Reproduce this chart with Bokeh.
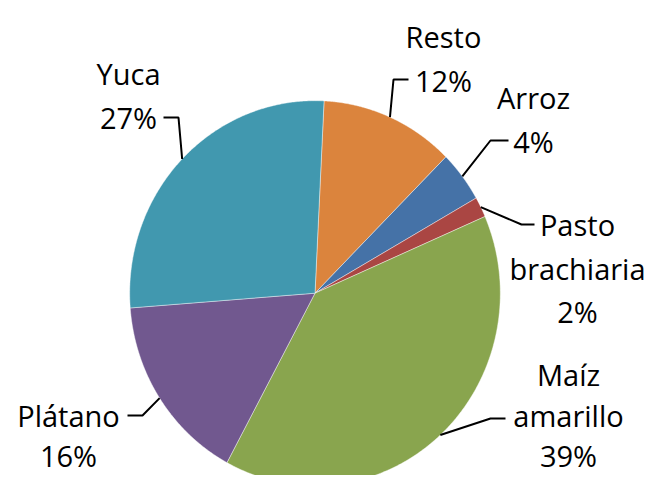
import numpy as np
from bokeh.plotting import figure
from bokeh.models import Range1d
from bokeh.core.properties import value
from bokeh.embed import file_html
from bokeh.resources import INLINE

# ---- data ----
categories = ["Resto", "Arroz", "Pasto brachiaria", "Maíz amarillo", "Plátano", "Yuca"]
shares = [11.7, 4.3, 1.7, 39.4, 15.9, 27.0]
colors = ["#DB843D", "#4572A7", "#AA4643", "#89A54E", "#71588F", "#4198AF"]
label_lines = [["Resto"], ["Arroz"], ["Pasto", "brachiaria"], ["Maíz", "amarillo"], ["Plátano"], ["Yuca"]]

# ---- layout (picture pixel coordinates) ----
W, H = 646, 475
cx, cy, rx, ry = 314.5, 292.7, 185.3, 192.5
start_deg = 2.8
# label block: centre x, first baseline y, line gap ; leader: text-side end, elbow
label_pos = [(443, 36, 43.5), (533, 97, 43.5), (577, 224, 43.5),
             (568, 374, 40.5), (68, 415, 39.5), (128, 73, 43.5)]
leader_tip = [(408, 79), (508, 140), (534, 224), (505, 418), (127, 415), (163, 117)]
leader_elbow = [(393, 79), (490, 140), (521, 224), (490, 418), (142, 415), (178, 117)]

p = figure(width=W, height=H, output_backend="svg", toolbar_location=None,
           x_range=Range1d(0, W), y_range=Range1d(H, 0),
           min_border=0, outline_line_color=None)
p.axis.visible = False
p.grid.visible = False
p.background_fill_color = "white"

total = sum(shares)
bounds = np.concatenate([[0], np.cumsum(shares)]) / total * 360.0 + start_deg
xs, ys = [], []
for a0, a1 in zip(bounds[:-1], bounds[1:]):
    t = np.radians(np.linspace(a0, a1, 200))
    xs.append(np.concatenate([[cx], cx + rx * np.sin(t)]).tolist())
    ys.append(np.concatenate([[cy], cy - ry * np.cos(t)]).tolist())
p.patches(xs, ys, fill_color=colors, line_color="white", line_width=0.6, line_alpha=0.7)

# leader lines
lx, ly = [], []
for i in range(len(shares)):
    mid = np.radians((bounds[i] + bounds[i + 1]) / 2)
    ex, ey = cx + rx * np.sin(mid), cy - ry * np.cos(mid)
    lx.append([leader_tip[i][0], leader_elbow[i][0], ex])
    ly.append([leader_tip[i][1], leader_elbow[i][1], ey])
p.multi_line(lx, ly, line_color="black", line_width=2)

# labels
tx, ty, tt = [], [], []
for i, lines in enumerate(label_lines):
    pct = f"{round(shares[i] / total * 100):d}%"
    x0, y0, gap = label_pos[i]
    for j, s in enumerate(lines + [pct]):
        tx.append(x0)
        ty.append(y0 + j * gap)
        tt.append(s)
p.text(x=tx, y=ty, text=tt, text_align="center", text_baseline="alphabetic",
       text_font=value("Open Sans"), text_font_size="29px", text_color="black")

open("out.html", "w").write(file_html(p, INLINE))
